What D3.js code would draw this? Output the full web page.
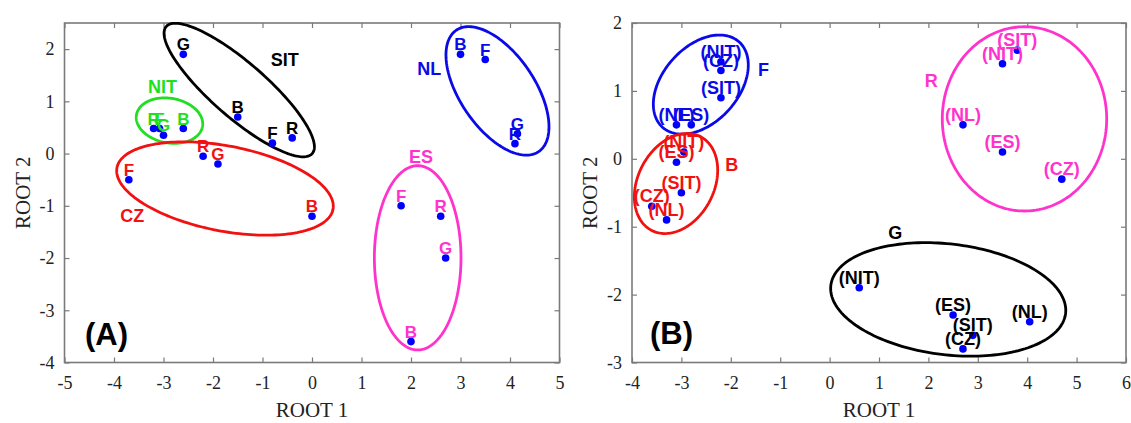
<!DOCTYPE html>
<html><head><meta charset="utf-8">
<script src="https://cdn.jsdelivr.net/npm/d3@7"></script>
<style>body{margin:0;background:#fff}svg{display:block}</style>
</head><body>
<svg id="chart" width="1131" height="423"></svg>
<script>
// ---------- data ----------
const groupColors = {SIT:"#000000", NIT:"#1ee01e", CZ:"#f21111", NL:"#0a0ae8", ES:"#ff33cc",
                     F:"#0a0ae8", B:"#f21111", R:"#ff33cc", G:"#000000"};

// Panel A: [group, label, ROOT1, ROOT2]
const pointsA = [
  ["SIT","G",-2.6,1.9],["SIT","B",-1.5,0.7],["SIT","F",-0.8,0.2],["SIT","R",-0.4,0.3],
  ["NIT","R",-3.2,0.48],["NIT","F",-3.08,0.48],["NIT","G",-3.0,0.35],["NIT","B",-2.6,0.48],
  ["CZ","F",-3.7,-0.5],["CZ","R",-2.2,-0.05],["CZ","G",-1.9,-0.2],["CZ","B",0.0,-1.2],
  ["NL","B",3.0,1.9],["NL","F",3.5,1.8],["NL","G",4.15,0.38],["NL","R",4.1,0.19],
  ["ES","F",1.8,-1.0],["ES","R",2.6,-1.2],["ES","G",2.7,-2.0],["ES","B",2.0,-3.6]
];
// ellipses: group, centre (cx,cy) and two conjugate semi-axis vectors u, v in data units
const ellipsesA = [
  ["SIT",-1.47,1.216, 1.475,-1.216, -0.362,-0.395],
  ["NIT",-2.879,0.631, 0.667,-0.112, -0.078,-0.421],
  ["CZ",-1.758,-0.669, 2.182,-0.399, -0.162,-0.800],
  ["NL",3.747,1.2, 0.832,-1.162, -0.625,-0.403],
  ["ES",2.135,-1.996, 0,1.764, 0.875,0]
];
const groupLabelsA = [["SIT",-0.55,1.8],["NIT",-3.02,1.29],["CZ",-3.63,-1.18],["NL",2.37,1.63],["ES",2.2,-0.05]];
const xTicksA = [-5,-4,-3,-2,-1,0,1,2,3,4,5];
const yTicksA = [-4,-3,-2,-1,0,1,2];

// Panel B
const pointsB = [
  ["F","(NIT)",-2.2,1.43],["F","(CZ)",-2.2,1.3],["F","(SIT)",-2.2,0.9],["F","(NL)",-3.1,0.5],["F","(ES)",-2.8,0.5],
  ["B","(NIT)",-2.95,0.1],["B","(ES)",-3.1,-0.05],["B","(SIT)",-3.0,-0.5],["B","(CZ)",-3.6,-0.7],["B","(NL)",-3.3,-0.9],
  ["R","(SIT)",3.8,1.6],["R","(NIT)",3.5,1.4],["R","(NL)",2.7,0.5],["R","(ES)",3.5,0.1],["R","(CZ)",4.7,-0.3],
  ["G","(NIT)",0.6,-1.9],["G","(ES)",2.5,-2.3],["G","(SIT)",2.9,-2.6],["G","(CZ)",2.7,-2.8],["G","(NL)",4.05,-2.4]
];
const ellipsesB = [
  ["F",-2.607,1.093, 0.776,0.628, 0.567,-0.372],
  ["B",-3.109,-0.364, 0.498,0.689, 0.681,-0.261],
  ["R",3.945,0.588, 0,1.357, 1.664,0],
  ["G",2.401,-2.071, 2.376,-0.207, -0.133,-0.810]
];
const groupLabelsB = [["F",-1.34,1.32],["B",-1.98,-0.08],["R",2.06,1.15],["G",1.33,-1.09]];
const xTicksB = [-4,-3,-2,-1,0,1,2,3,4,5,6];
const yTicksB = [-3,-2,-1,0,1,2];

const panels = [
  {tag:"(A)", tagPos:[-4.15,-3.45], points:pointsA, ellipses:ellipsesA, groupLabels:groupLabelsA,
   xTicks:xTicksA, yTicks:yTicksA, xDom:[-5,5], yDom:[-4,2.5], left:64.5, right:559.5, ptSize:17},
  {tag:"(B)", tagPos:[-3.2,-2.57], points:pointsB, ellipses:ellipsesB, groupLabels:groupLabelsB,
   xTicks:xTicksB, yTicks:yTicksB, xDom:[-4,6], yDom:[-3,2], left:632, right:1126, ptSize:18}
];

// ---------- drawing ----------
const svg = d3.select("#chart");
svg.append("rect").attr("width",1131).attr("height",423).attr("fill","#fff");
const plotTop = 23, plotBottom = 362.5;
const serif = "'Liberation Serif','Times New Roman',serif";
const sans = "'Liberation Sans',Arial,sans-serif";
const frameColor = "#7a7a7a";

panels.forEach(p => {
  const x = d3.scaleLinear().domain(p.xDom).range([p.left, p.right]);
  const y = d3.scaleLinear().domain(p.yDom).range([plotBottom, plotTop]);
  const g = svg.append("g");
  const fmt = d => String(d);

  const styleAxis = sel => {
    sel.select(".domain").remove();
    sel.selectAll(".tick line").attr("stroke", frameColor).attr("stroke-width",1.2);
    sel.selectAll(".tick text").attr("font-family", serif).attr("font-size", 18).attr("fill","#222");
  };
  g.append("g").attr("transform",`translate(0,${plotBottom})`)
    .call(d3.axisBottom(x).tickValues(p.xTicks).tickFormat(fmt).tickSize(-5).tickPadding(14)).call(styleAxis);
  g.append("g").attr("transform",`translate(0,${plotTop})`)
    .call(d3.axisTop(x).tickValues(p.xTicks).tickFormat("").tickSize(-5)).call(styleAxis);
  g.append("g").attr("transform",`translate(${p.left},0)`)
    .call(d3.axisLeft(y).tickValues(p.yTicks).tickFormat(fmt).tickSize(-5).tickPadding(10)).call(styleAxis);
  g.append("g").attr("transform",`translate(${p.right},0)`)
    .call(d3.axisRight(y).tickValues(p.yTicks).tickFormat("").tickSize(-5)).call(styleAxis);

  g.append("rect").attr("x",p.left).attr("y",plotTop).attr("width",p.right-p.left).attr("height",plotBottom-plotTop)
    .attr("fill","none").attr("stroke",frameColor).attr("stroke-width",1.6);

  // axis titles
  g.append("text").attr("x",(p.left+p.right)/2).attr("y",417).attr("text-anchor","middle")
    .attr("font-family",serif).attr("font-size",21).attr("fill","#222").text("ROOT 1");
  g.append("text").attr("transform",`translate(${p.left-35},${(plotTop+plotBottom)/2}) rotate(-90)`)
    .attr("text-anchor","middle").attr("font-family",serif).attr("font-size",21).attr("fill","#222").text("ROOT 2");

  // ellipses
  const ts = d3.range(0, 2*Math.PI, Math.PI/90);
  const line = d3.line().curve(d3.curveLinearClosed);
  g.selectAll("path.ell").data(p.ellipses).join("path").attr("class","ell")
    .attr("d", e => line(ts.map(t => [x(e[1] + e[3]*Math.cos(t) + e[5]*Math.sin(t)),
                                      y(e[2] + e[4]*Math.cos(t) + e[6]*Math.sin(t))])))
    .attr("fill","none").attr("stroke", e => groupColors[e[0]]).attr("stroke-width",2.8);

  // dots
  g.selectAll("circle").data(p.points).join("circle")
    .attr("cx", d => x(d[2])).attr("cy", d => y(d[3])).attr("r",3.8).attr("fill","#0000ff");

  // point labels
  g.selectAll("text.pl").data(p.points).join("text").attr("class","pl")
    .attr("x", d => x(d[2])).attr("y", d => y(d[3]) - 4).attr("text-anchor","middle")
    .attr("font-family",sans).attr("font-weight","bold").attr("font-size",p.ptSize)
    .attr("fill", d => groupColors[d[0]]).text(d => d[1]);

  // group labels
  g.selectAll("text.gl").data(p.groupLabels).join("text").attr("class","gl")
    .attr("x", d => x(d[1])).attr("y", d => y(d[2])).attr("dy","0.36em").attr("text-anchor","middle")
    .attr("font-family",sans).attr("font-weight","bold").attr("font-size",18)
    .attr("fill", d => groupColors[d[0]]).text(d => d[0]);

  // panel tag
  g.append("text").attr("x",x(p.tagPos[0])).attr("y",y(p.tagPos[1])).attr("dy","0.36em")
    .attr("text-anchor","middle").attr("font-family",sans).attr("font-weight","bold")
    .attr("font-size",31).attr("fill","#000").text(p.tag);
});
</script>
</body></html>
